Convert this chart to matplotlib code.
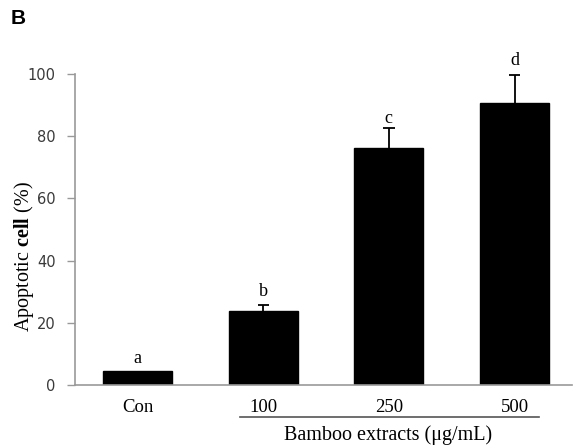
import matplotlib
matplotlib.use("Agg")
import matplotlib.pyplot as plt
from matplotlib.lines import Line2D

categories = ["Con", "100", "250", "500"]
values = [4.4, 23.7, 76.1, 90.6]
errors = [0.0, 2.1, 6.4, 9.1]
letters = ["a", "b", "c", "d"]
letter_y = [8.4, 30.0, 85.8, 104.5]
yticks = [0, 20, 40, 60, 80, 100]

plt.rcParams['mathtext.fontset'] = 'custom'
plt.rcParams['mathtext.rm'] = 'Liberation Serif'
plt.rcParams['mathtext.bf'] = 'Liberation Serif:bold'

W, H = 574, 445
fig = plt.figure(figsize=(W/100, H/100), dpi=100)
ax = fig.add_axes([75/W, 1-385/H, (572-75)/W, (385-74)/H])

x = list(range(len(categories)))
ax.bar(x, values, width=0.55, color='black', edgecolor='black', zorder=2)
tops = [v + e for v, e in zip(values, errors)]
ex = [xi for xi, e in zip(x, errors) if e > 0]
eb = [v for v, e in zip(values, errors) if e > 0]
et = [t for t, e in zip(tops, errors) if e > 0]
ax.vlines(ex, eb, et, color='black', lw=1.3, zorder=3)
ax.hlines(et, [xi - 0.045 for xi in ex], [xi + 0.045 for xi in ex], color='black', lw=1.3, zorder=3)
for xi, l, ly in zip(x, letters, letter_y):
    ax.text(xi, ly, l, ha='center', va='center', fontsize=13, family='Liberation Serif',
            clip_on=False)

ax.set_xlim(-0.497, 3.457)
ax.set_ylim(0, 100)
ax.set_yticks(yticks)
ax.set_yticklabels([str(t) for t in yticks], fontsize=10.5, family='DejaVu Sans', color='#3a3a3a')
ax.set_xticks(x)
ax.set_xticklabels(categories, fontsize=13.5, family='Liberation Serif')
ax.tick_params(axis='x', length=0, pad=10)
ax.tick_params(axis='y', length=6, width=1, color='#999999', pad=8)
for s in ['top', 'right']:
    ax.spines[s].set_visible(False)
for s in ['left', 'bottom']:
    ax.spines[s].set_color('#999999')
    ax.spines[s].set_linewidth(1.2)

fig.text(24/W, 1-257/H, r"Apoptotic $\mathbf{cell}$ (%)", rotation=90, ha='center', va='center',
         fontsize=14.5, family='Liberation Serif')
fig.add_artist(Line2D([240/W, 539/W], [1-417/H, 1-417/H], color='#555555', lw=1.2))
fig.text(388/W, 1-435/H, "Bamboo extracts (\u03bcg/mL)", ha='center', va='center',
         fontsize=14.5, family='Liberation Serif')
fig.text(11/W, 1-19/H, "B", ha='left', va='center', fontsize=15, fontweight='bold',
         family='Liberation Sans')

fig.savefig("out.png", dpi=100)
